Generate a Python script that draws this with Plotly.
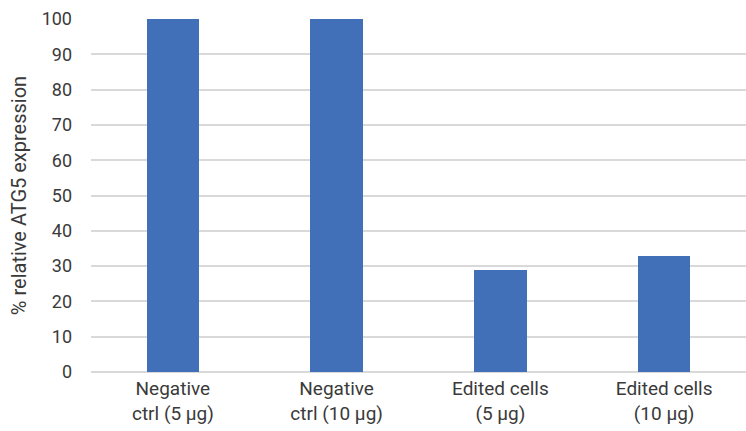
import plotly.graph_objects as go

categories = ["Negative<br>ctrl (5 µg)", "Negative<br>ctrl (10 µg)", "Edited cells<br>(5 µg)", "Edited cells<br>(10 µg)"]
expression = [100, 100, 29, 33]
y_ticks = list(range(0, 101, 10))

fig = go.Figure(
    go.Bar(
        x=categories,
        y=expression,
        marker=dict(color="#4270B8", line=dict(width=0)),
        width=0.32,
    )
)

fig.update_layout(
    width=746,
    height=431,
    margin=dict(l=91, r=0, t=19, b=59),
    paper_bgcolor="white",
    plot_bgcolor="white",
    showlegend=False,
    font=dict(family="Roboto, Arial, sans-serif", size=18, color="#3A3A3A"),
    bargap=0,
)

fig.update_yaxes(
    range=[0, 100],
    tickvals=y_ticks,
    showgrid=True,
    gridcolor="#D9D9D9",
    gridwidth=2,
    zeroline=True,
    zerolinecolor="#D9D9D9",
    zerolinewidth=2,
    showline=False,
    ticks="",
    ticklabelstandoff=18,
    tickfont=dict(size=18),
    title=dict(text="% relative ATG5 expression", standoff=9, font=dict(size=20)),
)

fig.update_xaxes(
    showgrid=False,
    showline=False,
    ticks="",
    ticklabelstandoff=3,
    tickfont=dict(size=19),
)

fig.write_html("out.html")
